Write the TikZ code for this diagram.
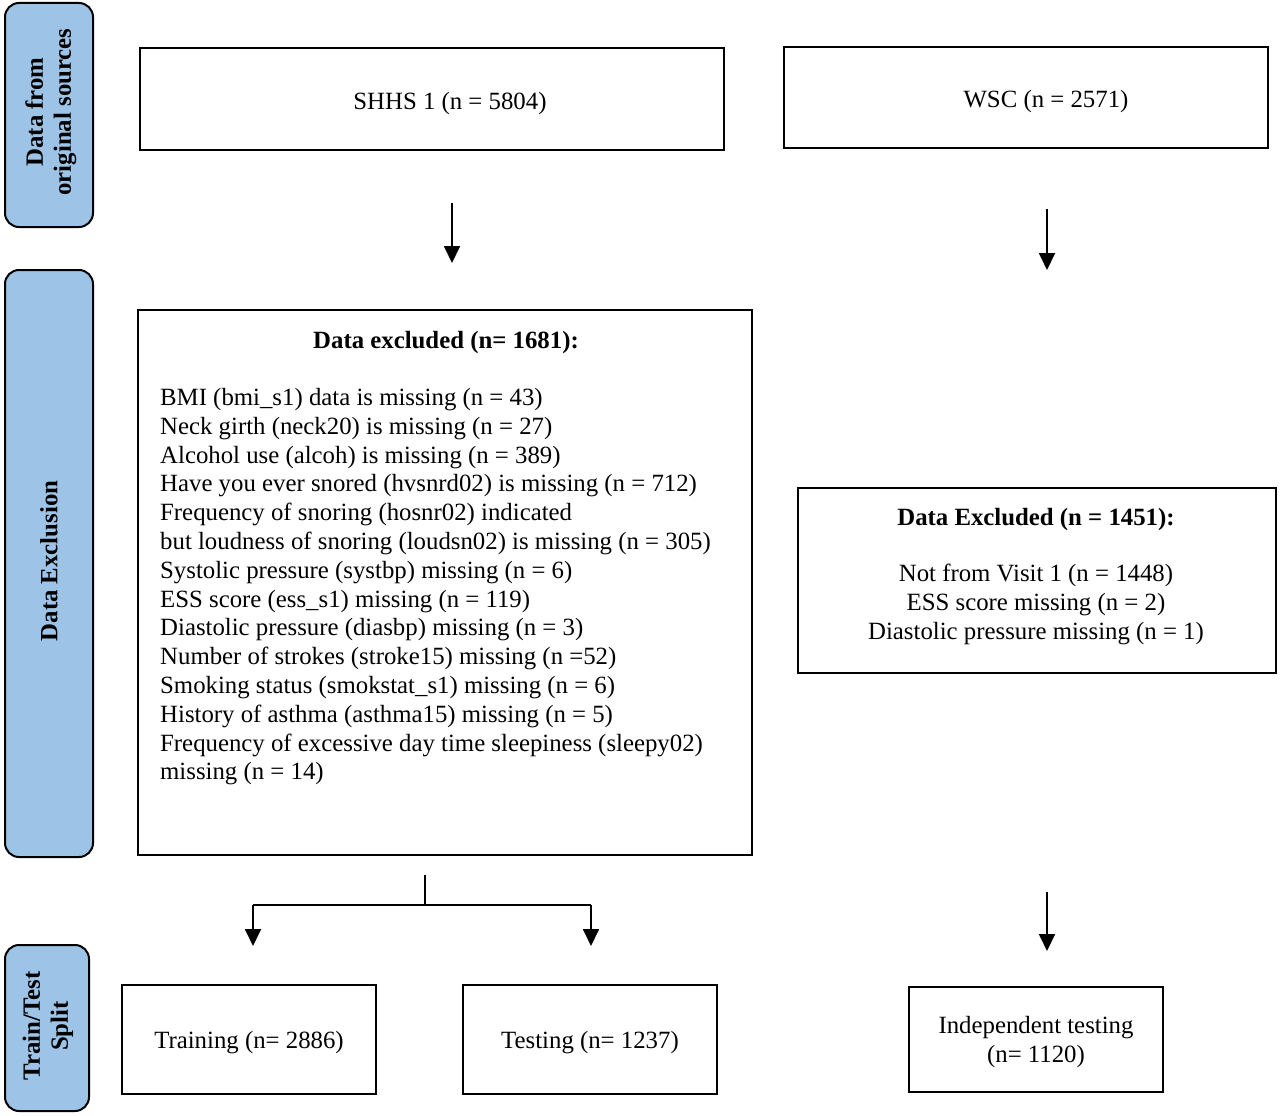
\documentclass[tikz,border=0pt]{standalone}
\usepackage{fontspec}
\setmainfont{Liberation Serif}
\usetikzlibrary{arrows.meta}
\definecolor{sideblue}{RGB}{157,195,230}
\tikzset{
  side/.style={draw=black, line width=2pt, fill=sideblue, rounded corners=14pt},
  sidetext/.style={rotate=90, font=\fontsize{24.8}{28}\selectfont\bfseries, align=center},
  box/.style={draw=black, line width=2pt, rectangle},
  txt/.style={font=\fontsize{24.8}{28.8}\selectfont},
  btxt/.style={font=\fontsize{24.8}{28.8}\selectfont\bfseries},
  arr/.style={line width=1.8pt, -{Triangle[width=16pt,length=17pt]}},
  ln/.style={line width=1.8pt}
}
\begin{document}
\begin{tikzpicture}[x=1pt,y=-1pt]
\useasboundingbox (0,0) rectangle (1280,1116);
% side labels
\draw[side] (5,3) rectangle (93,227);
\node[sidetext] (s1) at (51,112) {Data from\\original sources};
\draw[side] (5,270) rectangle (93,857);
\node[sidetext] (s2) at (49,561) {Data Exclusion};
\draw[side] (5,945) rectangle (89,1111);
\node[sidetext] (s3) at (48,1026) {Train/Test\\Split};
% top boxes
\node[box, minimum width=584pt, minimum height=102pt] (shhs) at (432,99) {};
\node[txt] (shhst) at (450,103.5) {SHHS 1 (n = 5804)};
\node[box, minimum width=484pt, minimum height=101pt] (wsc) at (1026,97.5) {};
\node[txt] (wsct) at (1046,102) {WSC (n = 2571)};
% arrows from top
\coordinate (a1s) at (452,203); \coordinate (a1e) at (452,263);
\draw[arr] (a1s) -- (a1e);
\coordinate (a2s) at (1047,209); \coordinate (a2e) at (1047,270);
\draw[arr] (a2s) -- (a2e);
% exclusion box
\node[box, minimum width=614pt, minimum height=545pt] (excl) at (445,582.5) {};
\node[btxt] (exclt) at (446,342.5) {Data excluded (n= 1681):};
\node[txt, align=left, anchor=north west, inner sep=0pt] (excll) at (160,388) {BMI (bmi\_s1) data is missing (n = 43)\\
Neck girth (neck20) is missing (n = 27)\\
Alcohol use (alcoh) is missing (n = 389)\\
Have you ever snored (hvsnrd02) is missing (n = 712)\\
Frequency of snoring (hosnr02) indicated\\
but loudness of snoring (loudsn02) is missing (n = 305)\\
Systolic pressure (systbp) missing (n = 6)\\
ESS score (ess\_s1) missing (n = 119)\\
Diastolic pressure (diasbp) missing (n = 3)\\
Number of strokes (stroke15) missing (n =52)\\
Smoking status (smokstat\_s1) missing (n = 6)\\
History of asthma (asthma15) missing (n = 5)\\
Frequency of excessive day time sleepiness (sleepy02)\\
missing (n = 14)};
% WSC exclusion
\node[box, minimum width=478pt, minimum height=185pt] (wexcl) at (1037,580.5) {};
\node[btxt] (wexclt) at (1036,519.5) {Data Excluded (n = 1451):};
\node[txt, align=center] (wexcll) at (1036,604.5) {Not from Visit 1 (n = 1448)\\ESS score missing (n = 2)\\Diastolic pressure missing (n = 1)};
% split
\coordinate (sp0) at (425,875);
\coordinate (sp1) at (425,905);
\coordinate (spl) at (253,905);
\coordinate (spr) at (591,905);
\coordinate (sple) at (253,946);
\coordinate (spre) at (591,946);
\draw[ln] (sp0) -- (sp1);
\draw[ln] (spl) -- (spr);
\draw[arr] (spl) -- (sple);
\draw[arr] (spr) -- (spre);
\coordinate (a3s) at (1047,892); \coordinate (a3e) at (1047,951);
\draw[arr] (a3s) -- (a3e);
% bottom boxes
\node[box, minimum width=254pt, minimum height=109pt] (train) at (249,1039.5) {};
\node[txt] (traint) at (249,1042.5) {Training (n= 2886)};
\node[box, minimum width=254pt, minimum height=109pt] (test) at (590,1039.5) {};
\node[txt] (testt) at (590,1042.5) {Testing (n= 1237)};
\node[box, minimum width=254pt, minimum height=105pt] (indep) at (1036,1039.5) {};
\node[txt, align=center] (indept) at (1036,1042) {Independent testing\\(n= 1120)};
\end{tikzpicture}
\end{document}
